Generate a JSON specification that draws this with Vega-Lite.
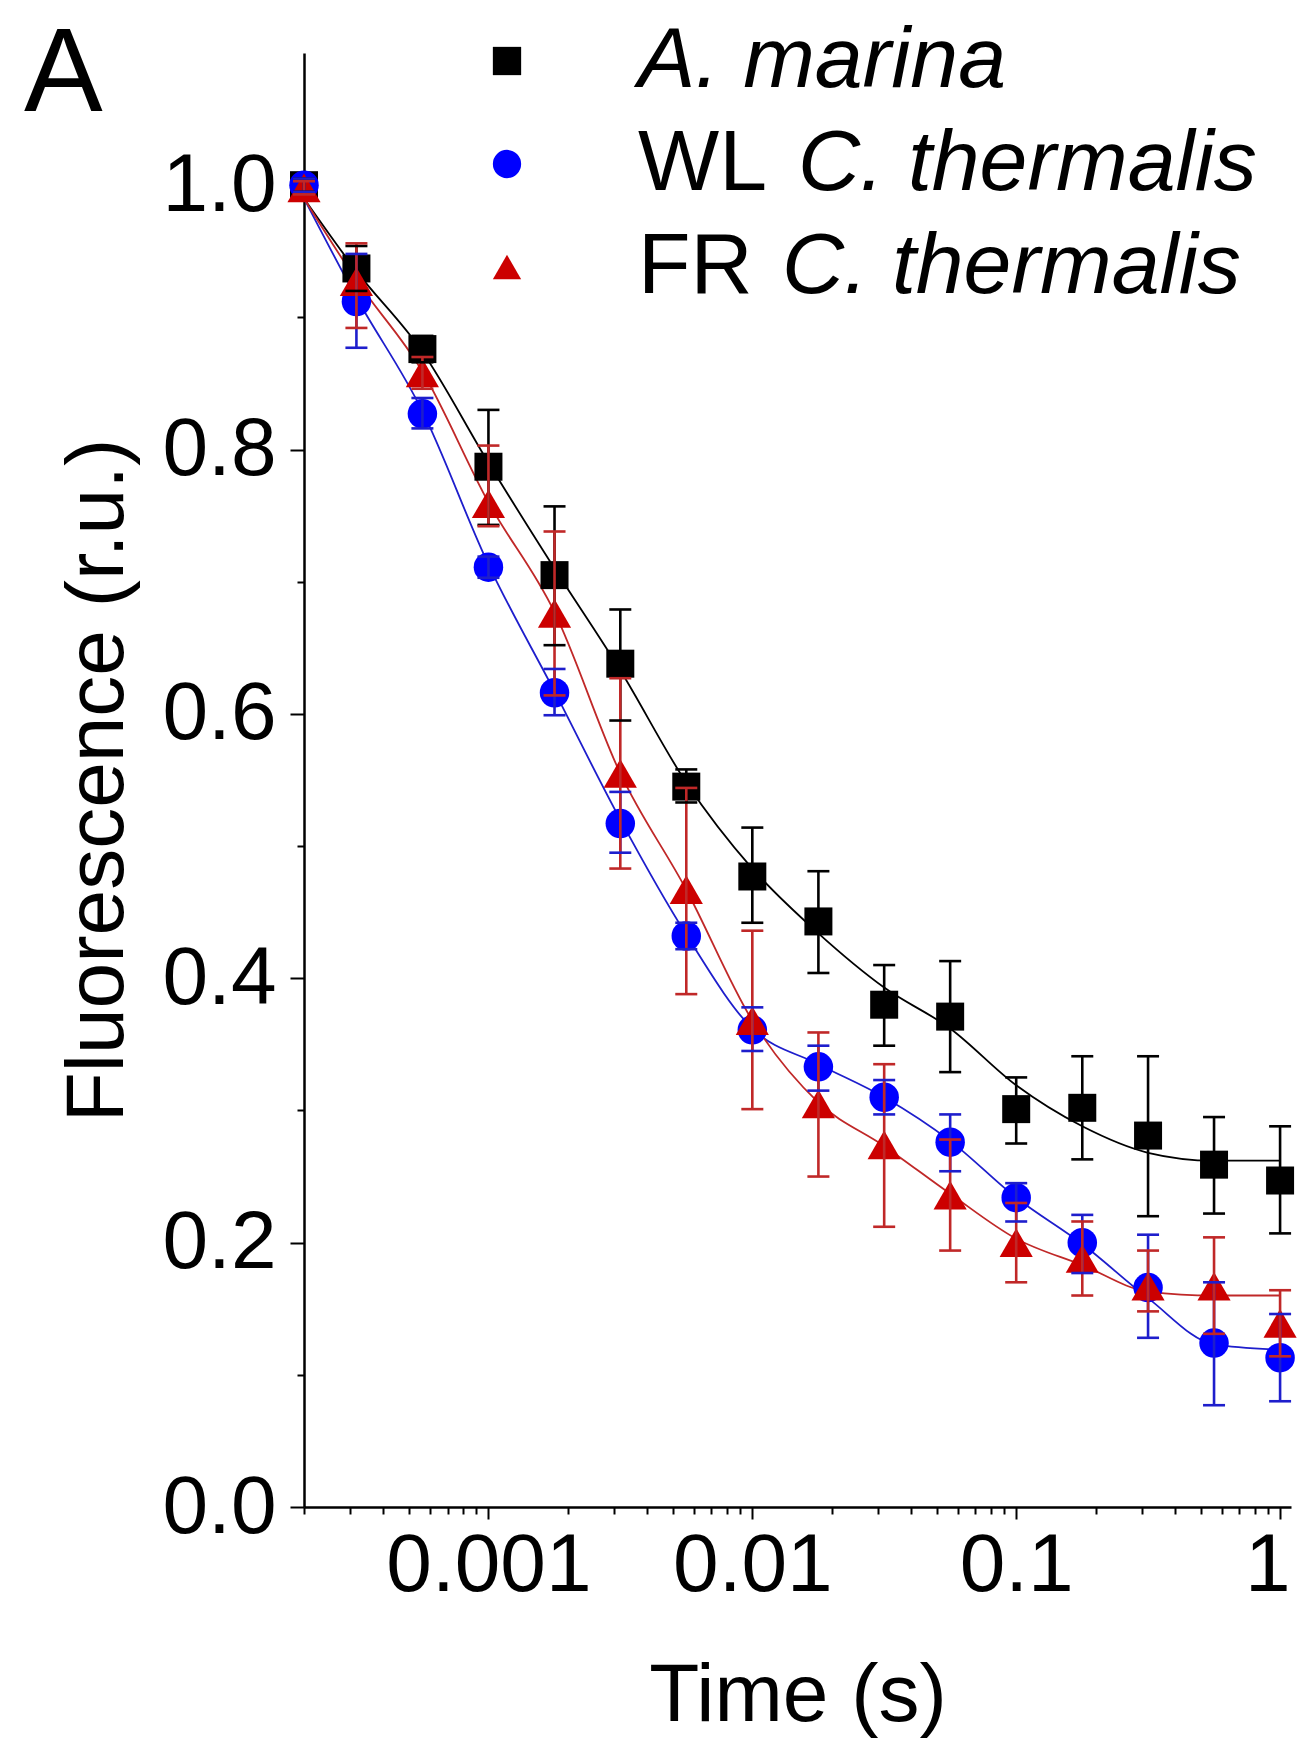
{
  "$schema": "https://vega.github.io/schema/vega-lite/v6.json",
  "width": 987,
  "height": 1454,
  "autosize": {"type": "none"},
  "padding": {"left": 304, "top": 53, "right": 9, "bottom": 233},
  "background": "white",
  "config": {"view": {"stroke": null}, "font": "Liberation Sans"},
  "title": {"text": "A", "anchor": "start", "frame": "group", "fontSize": 118, "fontWeight": "normal", "font": "Liberation Sans", "color": "black", "dx": -280, "dy": 210.5, "offset": 0, "baseline": "alphabetic"},
  "datasets": {
    "pts": [
      {"series": "A. marina", "sp": "A. marina", "t": 0.0002, "y": 1.0, "lo": 0.995, "hi": 1.005},
      {"series": "A. marina", "sp": "A. marina", "t": 0.000316, "y": 0.937, "lo": 0.92, "hi": 0.954},
      {"series": "A. marina", "sp": "A. marina", "t": 0.000562, "y": 0.876, "lo": 0.866, "hi": 0.886},
      {"series": "A. marina", "sp": "A. marina", "t": 0.001, "y": 0.787, "lo": 0.743, "hi": 0.83},
      {"series": "A. marina", "sp": "A. marina", "t": 0.00178, "y": 0.705, "lo": 0.652, "hi": 0.757},
      {"series": "A. marina", "sp": "A. marina", "t": 0.00316, "y": 0.638, "lo": 0.595, "hi": 0.679},
      {"series": "A. marina", "sp": "A. marina", "t": 0.00562, "y": 0.545, "lo": 0.533, "hi": 0.558},
      {"series": "A. marina", "sp": "A. marina", "t": 0.01, "y": 0.477, "lo": 0.442, "hi": 0.514},
      {"series": "A. marina", "sp": "A. marina", "t": 0.0178, "y": 0.443, "lo": 0.404, "hi": 0.481},
      {"series": "A. marina", "sp": "A. marina", "t": 0.0316, "y": 0.380, "lo": 0.349, "hi": 0.41},
      {"series": "A. marina", "sp": "A. marina", "t": 0.0562, "y": 0.371, "lo": 0.329, "hi": 0.413},
      {"series": "A. marina", "sp": "A. marina", "t": 0.1, "y": 0.301, "lo": 0.275, "hi": 0.325},
      {"series": "A. marina", "sp": "A. marina", "t": 0.178, "y": 0.302, "lo": 0.263, "hi": 0.341},
      {"series": "A. marina", "sp": "A. marina", "t": 0.316, "y": 0.281, "lo": 0.22, "hi": 0.341},
      {"series": "A. marina", "sp": "A. marina", "t": 0.562, "y": 0.259, "lo": 0.222, "hi": 0.295},
      {"series": "A. marina", "sp": "A. marina", "t": 1.0, "y": 0.247, "lo": 0.207, "hi": 0.288},
      {"series": "WL C. thermalis", "sp": "C. thermalis (WL)", "t": 0.0002, "y": 1.0, "lo": 0.995, "hi": 1.005},
      {"series": "WL C. thermalis", "sp": "C. thermalis (WL)", "t": 0.000316, "y": 0.912, "lo": 0.877, "hi": 0.948},
      {"series": "WL C. thermalis", "sp": "C. thermalis (WL)", "t": 0.000562, "y": 0.827, "lo": 0.816, "hi": 0.839},
      {"series": "WL C. thermalis", "sp": "C. thermalis (WL)", "t": 0.001, "y": 0.711, "lo": 0.703, "hi": 0.719},
      {"series": "WL C. thermalis", "sp": "C. thermalis (WL)", "t": 0.00178, "y": 0.616, "lo": 0.599, "hi": 0.634},
      {"series": "WL C. thermalis", "sp": "C. thermalis (WL)", "t": 0.00316, "y": 0.517, "lo": 0.495, "hi": 0.541},
      {"series": "WL C. thermalis", "sp": "C. thermalis (WL)", "t": 0.00562, "y": 0.432, "lo": 0.422, "hi": 0.442},
      {"series": "WL C. thermalis", "sp": "C. thermalis (WL)", "t": 0.01, "y": 0.361, "lo": 0.345, "hi": 0.378},
      {"series": "WL C. thermalis", "sp": "C. thermalis (WL)", "t": 0.0178, "y": 0.333, "lo": 0.315, "hi": 0.349},
      {"series": "WL C. thermalis", "sp": "C. thermalis (WL)", "t": 0.0316, "y": 0.310, "lo": 0.297, "hi": 0.323},
      {"series": "WL C. thermalis", "sp": "C. thermalis (WL)", "t": 0.0562, "y": 0.276, "lo": 0.254, "hi": 0.297},
      {"series": "WL C. thermalis", "sp": "C. thermalis (WL)", "t": 0.1, "y": 0.234, "lo": 0.216, "hi": 0.245},
      {"series": "WL C. thermalis", "sp": "C. thermalis (WL)", "t": 0.178, "y": 0.200, "lo": 0.177, "hi": 0.221},
      {"series": "WL C. thermalis", "sp": "C. thermalis (WL)", "t": 0.316, "y": 0.166, "lo": 0.128, "hi": 0.206},
      {"series": "WL C. thermalis", "sp": "C. thermalis (WL)", "t": 0.562, "y": 0.124, "lo": 0.077, "hi": 0.17},
      {"series": "WL C. thermalis", "sp": "C. thermalis (WL)", "t": 1.0, "y": 0.113, "lo": 0.08, "hi": 0.146},
      {"series": "FR C. thermalis", "sp": "C. thermalis (FR)", "t": 0.0002, "y": 0.998, "lo": 0.993, "hi": 1.003},
      {"series": "FR C. thermalis", "sp": "C. thermalis (FR)", "t": 0.000316, "y": 0.927, "lo": 0.892, "hi": 0.956},
      {"series": "FR C. thermalis", "sp": "C. thermalis (FR)", "t": 0.000562, "y": 0.858, "lo": 0.846, "hi": 0.87},
      {"series": "FR C. thermalis", "sp": "C. thermalis (FR)", "t": 0.001, "y": 0.759, "lo": 0.742, "hi": 0.803},
      {"series": "FR C. thermalis", "sp": "C. thermalis (FR)", "t": 0.00178, "y": 0.676, "lo": 0.614, "hi": 0.738},
      {"series": "FR C. thermalis", "sp": "C. thermalis (FR)", "t": 0.00316, "y": 0.555, "lo": 0.483, "hi": 0.627},
      {"series": "FR C. thermalis", "sp": "C. thermalis (FR)", "t": 0.00562, "y": 0.467, "lo": 0.388, "hi": 0.544},
      {"series": "FR C. thermalis", "sp": "C. thermalis (FR)", "t": 0.01, "y": 0.368, "lo": 0.301, "hi": 0.436},
      {"series": "FR C. thermalis", "sp": "C. thermalis (FR)", "t": 0.0178, "y": 0.305, "lo": 0.25, "hi": 0.359},
      {"series": "FR C. thermalis", "sp": "C. thermalis (FR)", "t": 0.0316, "y": 0.274, "lo": 0.212, "hi": 0.335},
      {"series": "FR C. thermalis", "sp": "C. thermalis (FR)", "t": 0.0562, "y": 0.236, "lo": 0.194, "hi": 0.278},
      {"series": "FR C. thermalis", "sp": "C. thermalis (FR)", "t": 0.1, "y": 0.200, "lo": 0.17, "hi": 0.23},
      {"series": "FR C. thermalis", "sp": "C. thermalis (FR)", "t": 0.178, "y": 0.188, "lo": 0.16, "hi": 0.216},
      {"series": "FR C. thermalis", "sp": "C. thermalis (FR)", "t": 0.316, "y": 0.167, "lo": 0.148, "hi": 0.194},
      {"series": "FR C. thermalis", "sp": "C. thermalis (FR)", "t": 0.562, "y": 0.167, "lo": 0.131, "hi": 0.204},
      {"series": "FR C. thermalis", "sp": "C. thermalis (FR)", "t": 1.0, "y": 0.139, "lo": 0.114, "hi": 0.164}
    ],
    "fit": [
      {"series": "A. marina", "t": 0.0002, "y": 0.99},
      {"series": "A. marina", "t": 0.000316, "y": 0.935},
      {"series": "A. marina", "t": 0.000562, "y": 0.874},
      {"series": "A. marina", "t": 0.001, "y": 0.79},
      {"series": "A. marina", "t": 0.00178, "y": 0.71},
      {"series": "A. marina", "t": 0.00316, "y": 0.633},
      {"series": "A. marina", "t": 0.00562, "y": 0.548},
      {"series": "A. marina", "t": 0.01, "y": 0.483},
      {"series": "A. marina", "t": 0.0178, "y": 0.434},
      {"series": "A. marina", "t": 0.0316, "y": 0.393},
      {"series": "A. marina", "t": 0.0562, "y": 0.362},
      {"series": "A. marina", "t": 0.1, "y": 0.319},
      {"series": "A. marina", "t": 0.178, "y": 0.288},
      {"series": "A. marina", "t": 0.316, "y": 0.268},
      {"series": "A. marina", "t": 0.562, "y": 0.262},
      {"series": "A. marina", "t": 1.0, "y": 0.262},
      {"series": "WL C. thermalis", "t": 0.0002, "y": 0.99},
      {"series": "WL C. thermalis", "t": 0.000316, "y": 0.915},
      {"series": "WL C. thermalis", "t": 0.000562, "y": 0.829},
      {"series": "WL C. thermalis", "t": 0.001, "y": 0.713},
      {"series": "WL C. thermalis", "t": 0.00178, "y": 0.617},
      {"series": "WL C. thermalis", "t": 0.00316, "y": 0.52},
      {"series": "WL C. thermalis", "t": 0.00562, "y": 0.433},
      {"series": "WL C. thermalis", "t": 0.01, "y": 0.362},
      {"series": "WL C. thermalis", "t": 0.0178, "y": 0.335},
      {"series": "WL C. thermalis", "t": 0.0316, "y": 0.31},
      {"series": "WL C. thermalis", "t": 0.0562, "y": 0.277},
      {"series": "WL C. thermalis", "t": 0.1, "y": 0.234},
      {"series": "WL C. thermalis", "t": 0.178, "y": 0.199},
      {"series": "WL C. thermalis", "t": 0.316, "y": 0.158},
      {"series": "WL C. thermalis", "t": 0.562, "y": 0.123},
      {"series": "WL C. thermalis", "t": 1.0, "y": 0.119},
      {"series": "FR C. thermalis", "t": 0.0002, "y": 0.99},
      {"series": "FR C. thermalis", "t": 0.000316, "y": 0.928},
      {"series": "FR C. thermalis", "t": 0.000562, "y": 0.859},
      {"series": "FR C. thermalis", "t": 0.001, "y": 0.76},
      {"series": "FR C. thermalis", "t": 0.00178, "y": 0.677},
      {"series": "FR C. thermalis", "t": 0.00316, "y": 0.555},
      {"series": "FR C. thermalis", "t": 0.00562, "y": 0.467},
      {"series": "FR C. thermalis", "t": 0.01, "y": 0.368},
      {"series": "FR C. thermalis", "t": 0.0178, "y": 0.306},
      {"series": "FR C. thermalis", "t": 0.0316, "y": 0.273},
      {"series": "FR C. thermalis", "t": 0.0562, "y": 0.237},
      {"series": "FR C. thermalis", "t": 0.1, "y": 0.203},
      {"series": "FR C. thermalis", "t": 0.178, "y": 0.183},
      {"series": "FR C. thermalis", "t": 0.316, "y": 0.163},
      {"series": "FR C. thermalis", "t": 0.562, "y": 0.16},
      {"series": "FR C. thermalis", "t": 1.0, "y": 0.16}
    ]
  },
  "layer": [
    {
      "data": {"name": "fit"},
      "mark": {"type": "line", "interpolate": "monotone", "strokeWidth": 1.8},
      "encoding": {
        "x": {
          "field": "t", "type": "quantitative",
          "scale": {"type": "log", "domain": [0.0002, 1.1], "nice": false},
          "axis": {
            "title": "Time (s)", "titleFont": "Liberation Sans", "titleFontSize": 82, "titleFontWeight": "normal", "titleColor": "black",
            "titleX": 493.5, "titleY": 213, "titleBaseline": "alphabetic", "titleAlign": "center",
            "labelFont": "Liberation Sans", "labelFontSize": 82, "labelColor": "black", "labelPadding": 6, "labelOverlap": false, "labelLimit": 1000,
            "labelFlush": 14, "labelFlushOffset": 10,
            "values": [0.0002, 0.0003, 0.0004, 0.0005, 0.0006, 0.0007, 0.0008, 0.0009, 0.001, 0.002, 0.003, 0.004, 0.005, 0.006, 0.007, 0.008, 0.009, 0.01, 0.02, 0.03, 0.04, 0.05, 0.06, 0.07, 0.08, 0.09, 0.1, 0.2, 0.3, 0.4, 0.5, 0.6, 0.7, 0.8, 0.9, 1],
            "labelExpr": "datum.value == 0.001 ? '0.001' : datum.value == 0.01 ? '0.01' : datum.value == 0.1 ? '0.1' : datum.value == 1 ? '1' : ''",
            "tickSize": {"condition": {"test": "datum.value == 0.001 || datum.value == 0.01 || datum.value == 0.1 || datum.value == 1", "value": 12}, "value": 7},
            "tickWidth": 2, "tickColor": "black", "domainColor": "black", "domainWidth": 2.5, "grid": false
          }
        },
        "y": {
          "field": "y", "type": "quantitative",
          "scale": {"domain": [0, 1.1], "nice": false, "zero": false},
          "axis": {
            "title": "Fluorescence (r.u.)", "titleFont": "Liberation Sans", "titleFontSize": 82, "titleFontWeight": "normal", "titleColor": "black",
            "titleX": -182, "titleY": 727, "titleAngle": -90, "titleBaseline": "alphabetic", "titleAlign": "center",
            "labelFont": "Liberation Sans", "labelFontSize": 82, "labelColor": "black", "labelPadding": 14, "labelOverlap": false, "labelFlush": false, "labelLimit": 1000,
            "values": [0, 0.1, 0.2, 0.3, 0.4, 0.5, 0.6, 0.7, 0.8, 0.9, 1.0],
            "labelExpr": "round(datum.value * 10) % 2 == 0 ? format(datum.value, '.1f') : ''",
            "tickSize": {"condition": {"test": "round(datum.value * 10) % 2 == 0", "value": 14}, "value": 7},
            "tickWidth": 2, "tickColor": "black", "domainColor": "black", "domainWidth": 2.5, "grid": false
          }
        },
        "stroke": {
          "field": "series", "type": "nominal",
          "scale": {"domain": ["WL C. thermalis", "A. marina", "FR C. thermalis"], "range": ["#1e1ecc", "#000000", "#c02828"]},
          "legend": null
        }
      }
    },
    {
      "data": {"name": "pts"},
      "mark": {"type": "point", "filled": true, "opacity": 1},
      "encoding": {
        "x": {"field": "t", "type": "quantitative"},
        "y": {"field": "y", "type": "quantitative"},
        "color": {
          "field": "series", "type": "nominal",
          "scale": {"domain": ["A. marina", "WL C. thermalis", "FR C. thermalis"], "range": ["#000000", "#0000ff", "#cc0000"]},
          "legend": {
            "orient": "none", "legendX": 160, "legendY": -35, "title": null, "padding": 0,
            "labelFont": "Liberation Sans", "labelFontSize": 86, "labelColor": "black", "labelOffset": 88, "labelLimit": 2000,
            "labelFontStyle": {"expr": "datum.value == 'A. marina' ? 'italic' : 'normal'"},
            "symbolSize": 800, "symbolStrokeWidth": 0, "rowPadding": 17,
            "labelExpr": "datum.label == 'A. marina' ? 'A. marina' : slice(datum.label, 0, 2)"
          }
        },
        "shape": {
          "field": "series", "type": "nominal",
          "scale": {"domain": ["A. marina", "WL C. thermalis", "FR C. thermalis"], "range": ["square", "circle", "triangle-up"]},
          "legend": {
            "orient": "none", "legendX": 160, "legendY": -35, "title": null, "padding": 0,
            "labelFont": "Liberation Sans", "labelFontSize": 86, "labelColor": "black", "labelOffset": 88, "labelLimit": 2000,
            "labelFontStyle": {"expr": "datum.value == 'A. marina' ? 'italic' : 'normal'"},
            "symbolSize": 800, "symbolStrokeWidth": 0, "rowPadding": 17,
            "labelExpr": "datum.label == 'A. marina' ? 'A. marina' : slice(datum.label, 0, 2)"
          }
        },
        "size": {
          "field": "series", "type": "nominal",
          "scale": {"type": "ordinal", "domain": ["FR C. thermalis", "A. marina", "WL C. thermalis"], "range": [1100, 784, 870]},
          "legend": null
        },
        "opacity": {
          "field": "sp", "type": "nominal",
          "scale": {"type": "ordinal", "domain": ["A. marina", "C. thermalis (WL)", "C. thermalis (FR)"], "range": [1, 1, 1]},
          "legend": {
            "orient": "none", "legendX": 408, "legendY": 67.5, "title": null, "padding": 0,
            "values": ["C. thermalis (WL)", "C. thermalis (FR)"],
            "labelFont": "Liberation Sans", "labelFontSize": 86, "labelFontStyle": "italic", "labelColor": "black", "labelLimit": 2000,
            "labelOffset": {"expr": "datum.value == 'C. thermalis (FR)' ? -16 : 0"},
            "symbolSize": 0, "symbolStrokeWidth": 0, "symbolOpacity": 0, "rowPadding": 17,
            "labelExpr": "'C. thermalis'"
          }
        }
      }
    },
    {
      "data": {"name": "pts"},
      "mark": {"type": "rule", "strokeWidth": 2.6},
      "encoding": {
        "x": {"field": "t", "type": "quantitative"},
        "y": {"field": "lo", "type": "quantitative"},
        "y2": {"field": "hi"},
        "stroke": {"field": "series", "type": "nominal", "legend": null}
      }
    },
    {
      "data": {"name": "pts"},
      "mark": {"type": "rule", "strokeWidth": 2.6, "xOffset": -11, "x2Offset": 11},
      "encoding": {
        "x": {"field": "t", "type": "quantitative"},
        "x2": {"field": "t"},
        "y": {"field": "lo", "type": "quantitative"},
        "stroke": {"field": "series", "type": "nominal", "legend": null}
      }
    },
    {
      "data": {"name": "pts"},
      "mark": {"type": "rule", "strokeWidth": 2.6, "xOffset": -11, "x2Offset": 11},
      "encoding": {
        "x": {"field": "t", "type": "quantitative"},
        "x2": {"field": "t"},
        "y": {"field": "hi", "type": "quantitative"},
        "stroke": {"field": "series", "type": "nominal", "legend": null}
      }
    }
  ]
}
